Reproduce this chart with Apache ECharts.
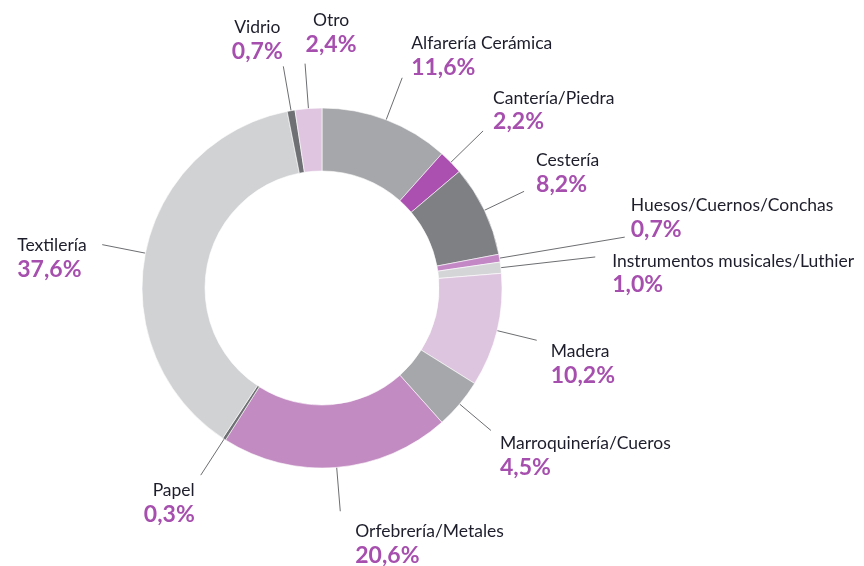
<!DOCTYPE html>
<html>
<head>
<meta charset="utf-8">
<script src="https://cdn.jsdelivr.net/npm/echarts@6/dist/echarts.min.js"></script>
<style>
  html, body { margin: 0; padding: 0; background: #fff; }
  #main { width: 864px; height: 566px; }
</style>
</head>
<body>
<div id="main"></div>
<script>
// datos (porcentaje por oficio), en sentido horario desde arriba
var oficios = ['Alfarería Cerámica', 'Cantería/Piedra', 'Cestería', 'Huesos/Cuernos/Conchas',
  'Instrumentos musicales/Luthier', 'Madera', 'Marroquinería/Cueros', 'Orfebrería/Metales',
  'Papel', 'Textilería', 'Vidrio', 'Otro'];
var porcentajes = [11.6, 2.2, 8.2, 0.7, 1.0, 10.2, 4.5, 20.6, 0.3, 37.6, 0.7, 2.4];

// estilo de cada porción
var colores = ['#a6a7aa', '#ab4fb1', '#7f8084', '#c387c6', '#d4d5d7', '#dec5df',
  '#a6a7aa', '#c28bc1', '#6f7073', '#d1d2d4', '#6f7074', '#dfc5e0'];
// largo de la línea guía y ubicación de la etiqueta respecto a su extremo
var largoLinea = [45, 45, 44, 127, 95, 41, 41, 44, 43, 44, 45, 45];
var ubicacion = [
  ['left', 'bottom', 9, 2], ['left', 'bottom', 10, 3], ['left', 'bottom', 12, 5],
  ['left', 'bottom', 6, 4], ['left', 'top', 17, -8], ['left', 'top', 14, -1],
  ['left', 'top', 9, 1], ['left', 'top', 15, 8], ['right', 'top', -6, 3],
  ['left', 'middle', -85, 13], ['center', 'bottom', -26, -3], ['center', 'bottom', 26, -7]
];

var datos = oficios.map(function (n, i) {
  return {
    name: n,
    value: porcentajes[i],
    itemStyle: { color: colores[i] },
    labelLine: { length: largoLinea[i], length2: 0 }
  };
});

var chart = echarts.init(document.getElementById('main'));
chart.setOption({
  backgroundColor: '#fff',
  series: [{
    type: 'pie',
    center: [322, 288],
    radius: [117, 180],
    startAngle: 90,
    clockwise: true,
    avoidLabelOverlap: false,
    animation: false,
    itemStyle: { borderColor: '#fff', borderWidth: 0.6 },
    label: {
      show: true,
      position: 'outside',
      formatter: function (p) {
        return '{n|' + p.name + '}\n{p|' + p.value.toFixed(1).replace('.', ',') + '%}';
      },
      rich: {
        n: { fontFamily: 'Lato', fontSize: 17.5, lineHeight: 24, color: '#1d1d2b' },
        p: { fontFamily: 'Lato', fontSize: 23, lineHeight: 24, fontWeight: 'bold', color: '#a64fae' }
      }
    },
    labelLine: {
      show: true,
      smooth: false,
      lineStyle: { color: '#6d6e71', width: 1 }
    },
    labelLayout: function (params) {
      var pts = params.labelLinePoints;
      if (!pts) return {};
      var u = ubicacion[params.dataIndex];
      var end = pts[pts.length - 1];
      return {
        x: end[0] + u[2],
        y: end[1] + u[3],
        align: u[0],
        verticalAlign: u[1],
        labelLinePoints: pts
      };
    },
    data: datos
  }]
});
</script>
</body>
</html>
